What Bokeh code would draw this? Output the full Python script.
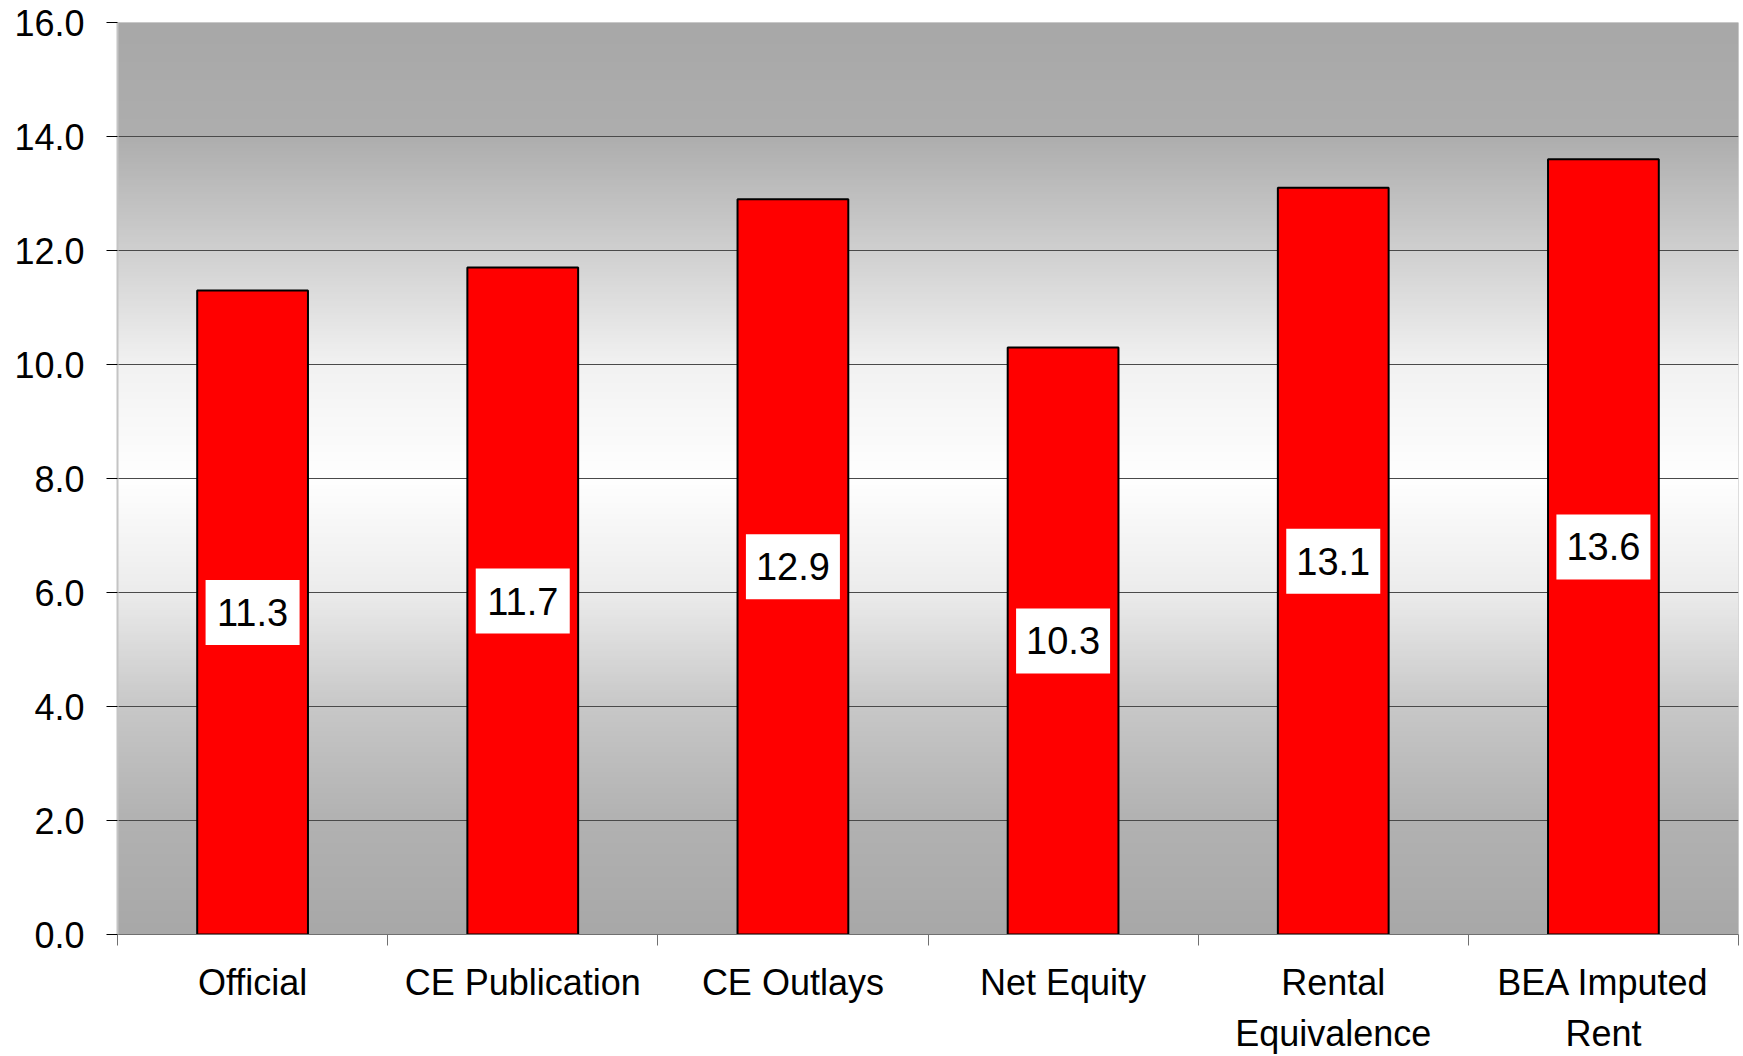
import numpy as np
from bokeh.plotting import figure
from bokeh.models import FixedTicker, Range1d, ColumnDataSource
from bokeh.core.properties import value
from bokeh.embed import file_html
from bokeh.resources import INLINE

categories = ["Official", "CE Publication", "CE Outlays", "Net Equity",
              "Rental\nEquivalence", "BEA Imputed\nRent"]
values = [11.3, 11.7, 12.9, 10.3, 13.1, 13.6]
label_texts = ["11.3", "11.7", "12.9", "10.3", "13.1", "13.6"]
y_ticks = [0, 2, 4, 6, 8, 10, 12, 14, 16]
y_tick_labels = ["0.0", "2.0", "4.0", "6.0", "8.0", "10.0", "12.0", "14.0", "16.0"]

FONT = "Liberation Sans"
n = len(categories)
centers = [i + 0.5 for i in range(n)]

p = figure(width=1743, height=1056, output_backend="svg", toolbar_location=None,
           x_range=Range1d(0, n), y_range=Range1d(0, 16),
           min_border_left=117, min_border_top=22, min_border_right=5,
           min_border_bottom=117)
p.outline_line_color = None
p.background_fill_color = "#a8a8a8"
p.border_fill_color = "white"

# background vertical gradient (styling)
stop_y = [0, 2, 4, 6, 8, 10, 12, 14, 16]
stop_g = [168, 178, 200, 236, 255, 242, 208, 174, 168]
ys = np.linspace(0, 16, 400)
g = np.interp(ys, stop_y, stop_g).astype(np.uint32)
img = np.empty((400, 2), dtype=np.uint32)
view = img.view(dtype=np.uint8).reshape((400, 2, 4))
view[:, :, 0] = g[:, None]
view[:, :, 1] = g[:, None]
view[:, :, 2] = g[:, None]
view[:, :, 3] = 255
p.image_rgba(image=[img], x=0, y=0, dw=n, dh=16, level="image")

# grid
p.xgrid.grid_line_color = None
p.ygrid.grid_line_color = "#4a4a4a"
p.ygrid.grid_line_width = 1
p.ygrid.level = "underlay"

src = ColumnDataSource(dict(x=centers, top=values, mid=[v / 2 for v in values],
                            lab=label_texts))
p.vbar(x="x", top="top", bottom=0, width=0.41, source=src,
       fill_color="#ff0000", line_color="black", line_width=2)
p.rect(x="x", y="mid", width=94, height=65, width_units="screen",
       height_units="screen", source=src, fill_color="white", line_color=None)
p.text(x="x", y="mid", text="lab", source=src, text_align="center",
       text_baseline="middle", text_font=value(FONT), text_font_size="38px",
       text_color="black")

# y axis
p.yaxis.ticker = FixedTicker(ticks=y_ticks)
p.yaxis.major_label_overrides = {t: s for t, s in zip(y_ticks, y_tick_labels)}
p.yaxis.major_label_text_font = FONT
p.yaxis.major_label_text_font_size = "36px"
p.yaxis.major_label_text_color = "black"
p.yaxis.major_label_standoff = 22
p.yaxis.major_tick_in = 0
p.yaxis.major_tick_out = 11
p.yaxis.major_tick_line_color = "black"
p.yaxis.minor_tick_line_color = None
p.yaxis.axis_line_color = "#c4c4c4"
p.yaxis.axis_line_width = 2

# x axis
p.xaxis.ticker = FixedTicker(ticks=centers, minor_ticks=list(range(n + 1)))
p.xaxis.major_label_overrides = {c: s for c, s in zip(centers, categories)}
p.xaxis.major_label_text_font = FONT
p.xaxis.major_label_text_font_size = "36px"
p.xaxis.major_label_text_color = "black"
p.xaxis.major_label_text_line_height = 1.25
p.xaxis.major_label_standoff = 16
p.xaxis.major_tick_line_color = None
p.xaxis.minor_tick_in = 0
p.xaxis.minor_tick_out = 11
p.xaxis.minor_tick_line_color = "#707070"
p.xaxis.axis_line_color = "#707070"

open("out.html", "w").write(file_html(p, INLINE))
